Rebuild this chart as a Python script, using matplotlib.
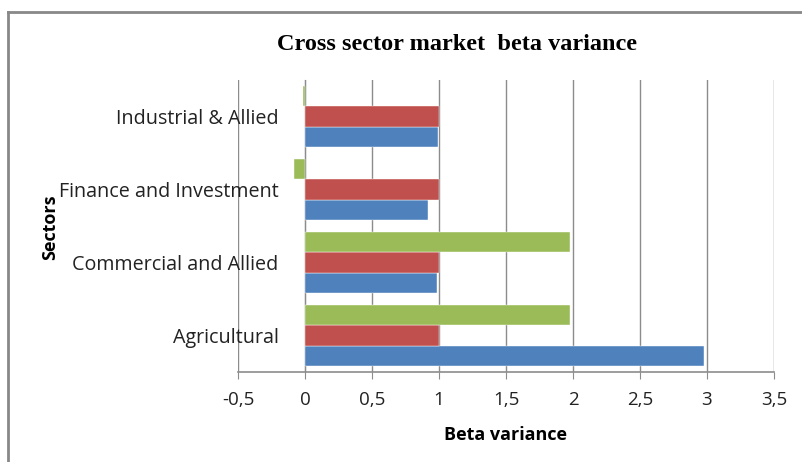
import matplotlib
matplotlib.use("Agg")
import matplotlib.pyplot as plt
import numpy as np
from matplotlib.ticker import FuncFormatter

categories = ["Agricultural", "Commercial and Allied", "Finance and Investment", "Industrial & Allied"]
series_blue = [2.98, 0.985, 0.92, 0.99]
series_red = [1.0, 1.0, 1.0, 1.0]
series_green = [1.98, 1.98, -0.08, -0.012]
xticks = [-0.5, 0, 0.5, 1, 1.5, 2, 2.5, 3, 3.5]

colors = ["#4F81BD", "#C0504D", "#9BBB59"]

fig = plt.figure(figsize=(8.02, 4.62), dpi=100)
ax = fig.add_axes([238/802, 1-372/462, (774-238)/802, (372-80)/462])

y = np.arange(len(categories))
h = 0.28
for off, vals, c in [(-h, series_blue, colors[0]), (0, series_red, colors[1]), (h, series_green, colors[2])]:
    ax.barh(y + off, vals, height=h, color=c, edgecolor="white", linewidth=0.3, zorder=3)

ax.set_xlim(-0.5, 3.5)
ax.set_ylim(-0.5, len(categories) - 0.5)
ax.set_xticks(xticks)
ax.xaxis.set_major_formatter(FuncFormatter(lambda v, p: ("%g" % v).replace(".", ",")))
ax.grid(axis="x", color="#8c8c8c", linewidth=1.0, zorder=0)
ax.set_axisbelow(True)

ax.spines["top"].set_visible(False)
ax.spines["right"].set_visible(False)
ax.spines["left"].set_position(("data", 0))
ax.spines["left"].set_color("#8c8c8c")
ax.spines["bottom"].set_color("#8c8c8c")
ax.spines["bottom"].set_linewidth(1.2)

ax.set_yticks(y)
ax.set_yticklabels(categories, fontsize=14.2, family="Open Sans", color="#222222")
ax.tick_params(axis="y", length=0, pad=19)
ax.tick_params(axis="x", length=5, color="#8c8c8c", direction="out", labelsize=13.5, pad=9)
for lbl in ax.get_xticklabels():
    lbl.set_family("Open Sans")
    lbl.set_color("#222222")

ax.set_xlabel("Beta variance", fontsize=13, fontweight="bold", family="Open Sans", labelpad=12)

fig.text(50/802, 1-227/462, "Sectors", rotation=90, fontsize=13, fontweight="bold",
         family="Open Sans", ha="center", va="center")
fig.text(457/802, 1-45/462, "Cross sector market  beta variance", fontsize=17.5,
         fontweight="bold", family="Liberation Serif", ha="center", va="center")

# chart frame (cropped on right and bottom)
fig.add_artist(plt.Line2D([8/802, 8/802], [0, 1-12/462], transform=fig.transFigure, color="#888888", linewidth=2))
fig.add_artist(plt.Line2D([8/802, 1], [1-12/462, 1-12/462], transform=fig.transFigure, color="#888888", linewidth=2))

fig.savefig("out.png", dpi=100)
